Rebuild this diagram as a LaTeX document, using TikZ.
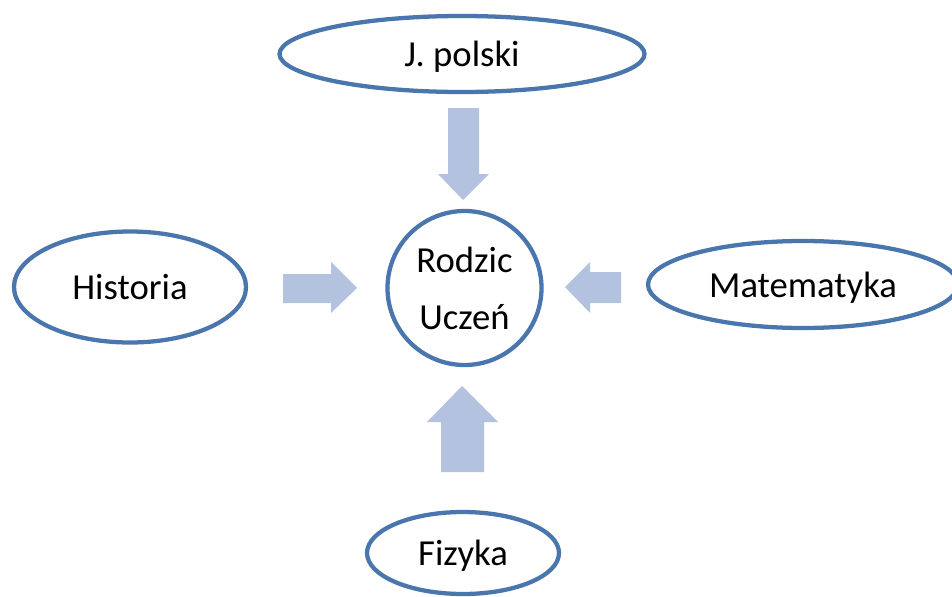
\documentclass[tikz,border=0pt]{standalone}
\usepackage{fontspec}
\setmainfont{Carlito}
\usepackage{xcolor}
\usepackage{tikz}
\definecolor{obrys}{HTML}{4A76AE}
\definecolor{strzalka}{HTML}{B3C2DE}
\tikzset{
	przedmiot/.style={ellipse, draw=obrys, line width=3.2pt, fill=white, inner sep=0pt, text depth=0pt},
	srodek/.style={circle, draw=obrys, line width=3.2pt, fill=white, inner sep=0pt, minimum size=154*0.75pt, align=center},
	blok/.style={fill=strzalka, draw=none}
}
\usetikzlibrary{shapes.geometric}
\begin{document}
\begin{tikzpicture}[x=0.75pt,y=-0.75pt,font=\fontsize{27.5}{42.75}\selectfont]
			\useasboundingbox (0,0) rectangle (952,596);
			\clip (0,0) rectangle (952,596);
			% Węzły
			\node[srodek] (dom) at (464.5,288) {Rodzic\\Uczeń};
			\node[przedmiot, minimum width=365*0.75pt, minimum height=76*0.75pt] (polski) at (462,54) {J. polski};
			\node[przedmiot, minimum width=232*0.75pt, minimum height=111*0.75pt] (historia) at (130,287) {Historia};
			\node[przedmiot, minimum width=310*0.75pt, minimum height=87*0.75pt] (matematyka) at (803,284.5) {Matematyka};
			\node[przedmiot, minimum width=192*0.75pt, minimum height=82*0.75pt] (fizyka) at (463,553) {Fizyka};
			% Strzałki
			\fill[blok] (448,108) -- (479,108) -- (479,174) -- (489,174) -- (463,200) -- (438,174) -- (448,174) -- cycle;
			\fill[blok] (283,274) -- (331,274) -- (331,262) -- (357,288) -- (331,313) -- (331,303) -- (283,303) -- cycle;
			\fill[blok] (621,272) -- (590,272) -- (590,262) -- (565,287) -- (590,313) -- (590,303) -- (621,303) -- cycle;
			\fill[blok] (441,472) -- (441,422) -- (427,422) -- (462,386) -- (498,422) -- (484,422) -- (484,472) -- cycle;
\end{tikzpicture}
\end{document}
